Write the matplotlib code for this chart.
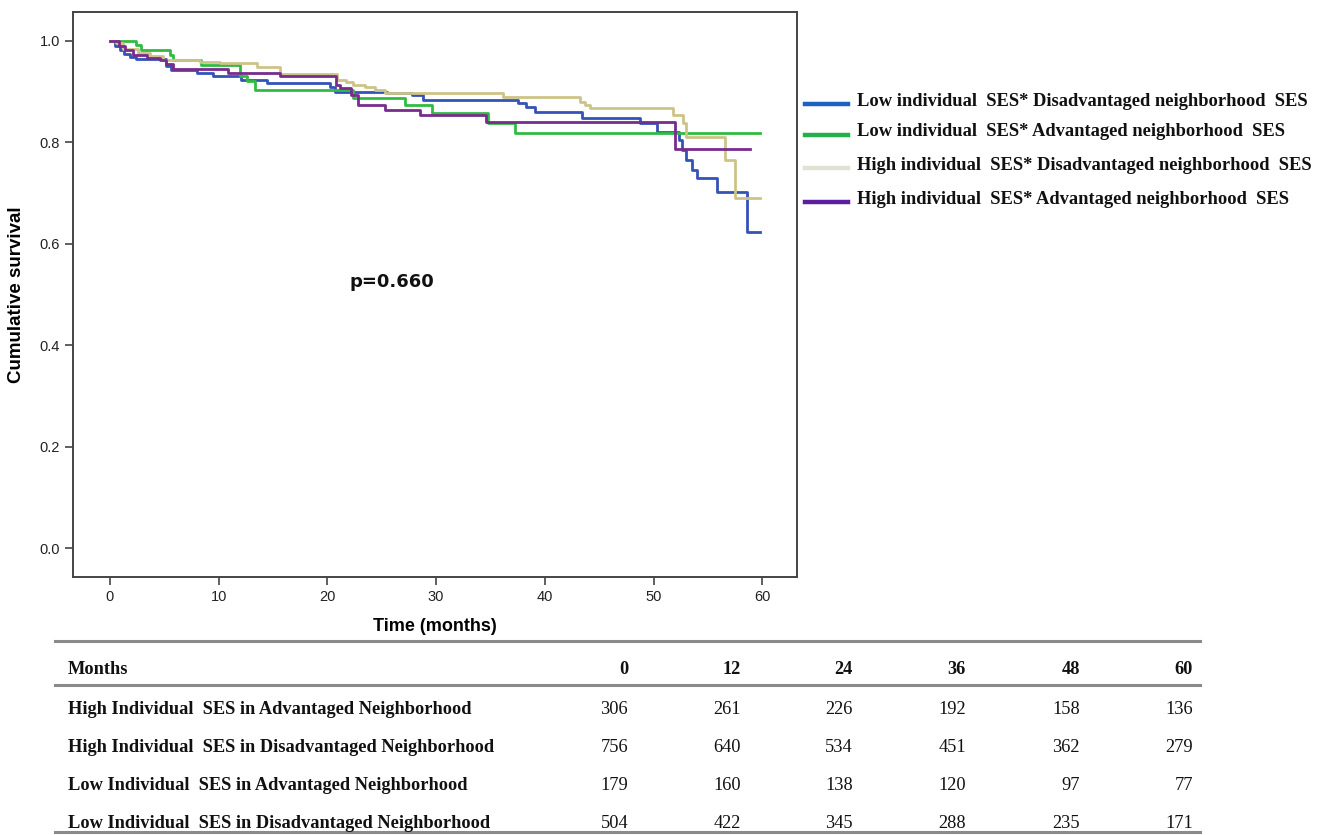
import matplotlib
matplotlib.use("Agg")
import matplotlib.pyplot as plt
from matplotlib.lines import Line2D

# Kaplan-Meier step curves (change points)
low_dis_t = [0, 0.5, 0.9, 1.3, 1.8, 2.4, 5.2, 5.6, 8.0, 9.5, 12.1, 14.4, 20.2, 20.7, 25.5, 27.8, 28.8,
             37.5, 38.3, 39.1, 43.4, 48.8, 50.3, 52.3, 52.6, 53.0, 53.5, 54.0, 55.8, 58.6, 59.8]
low_dis_s = [1.0, 0.99, 0.982, 0.975, 0.969, 0.964, 0.95, 0.943, 0.937, 0.931, 0.923, 0.917, 0.909, 0.90,
             0.897, 0.893, 0.884, 0.877, 0.870, 0.859, 0.848, 0.838, 0.821, 0.805, 0.785, 0.765, 0.745,
             0.729, 0.703, 0.624, 0.624]

low_adv_t = [0, 2.4, 2.9, 5.5, 5.8, 8.4, 12.0, 12.6, 13.3, 22.4, 27.1, 29.6, 34.8, 37.3, 59.8]
low_adv_s = [1.0, 0.992, 0.982, 0.972, 0.962, 0.953, 0.930, 0.920, 0.903, 0.888, 0.874, 0.857, 0.838,
             0.818, 0.818]

high_dis_t = [0, 0.6, 1.2, 2.6, 3.7, 4.9, 8.3, 10.1, 13.5, 15.6, 20.9, 21.7, 22.4, 23.5, 24.4, 25.3,
              36.2, 43.2, 43.7, 44.2, 51.8, 52.7, 53.0, 56.6, 57.5, 59.8]
high_dis_s = [1.0, 0.995, 0.985, 0.976, 0.97, 0.962, 0.959, 0.956, 0.949, 0.934, 0.922, 0.918, 0.913,
              0.909, 0.903, 0.897, 0.890, 0.880, 0.874, 0.867, 0.854, 0.838, 0.811, 0.765, 0.690, 0.690]

high_adv_t = [0, 0.8, 1.4, 2.1, 3.4, 4.6, 5.2, 5.8, 10.9, 15.6, 20.8, 21.2, 22.2, 22.8, 25.3, 28.5,
              34.6, 52.0, 58.9]
high_adv_s = [1.0, 0.99, 0.982, 0.972, 0.966, 0.962, 0.955, 0.944, 0.937, 0.930, 0.913, 0.907, 0.893,
              0.874, 0.864, 0.854, 0.840, 0.786, 0.786]

legend_labels = ["Low individual  SES* Disadvantaged neighborhood  SES",
                 "Low individual  SES* Advantaged neighborhood  SES",
                 "High individual  SES* Disadvantaged neighborhood  SES",
                 "High individual  SES* Advantaged neighborhood  SES"]

# numbers at risk table
table_months = [0, 12, 24, 36, 48, 60]
table_rows = ["High Individual  SES in Advantaged Neighborhood",
              "High Individual  SES in Disadvantaged Neighborhood",
              "Low Individual  SES in Advantaged Neighborhood",
              "Low Individual  SES in Disadvantaged Neighborhood"]
at_risk_high_adv = [306, 261, 226, 192, 158, 136]
at_risk_high_dis = [756, 640, 534, 451, 362, 279]
at_risk_low_adv = [179, 160, 138, 120, 97, 77]
at_risk_low_dis = [504, 422, 345, 288, 235, 171]

line_colors = ["#3353b8", "#30bb42", "#cdc388", "#782c8c"]
legend_colors = ["#1c62c2", "#22b04a", "#e0e1d2", "#5a1f99"]

W, H = 1325, 835
fig = plt.figure(figsize=(W / 100, H / 100), dpi=100)
ax = fig.add_axes([73 / W, 1 - 577 / H, (797 - 73) / W, (577 - 12) / H])

curves = [(low_dis_t, low_dis_s), (low_adv_t, low_adv_s), (high_dis_t, high_dis_s), (high_adv_t, high_adv_s)]
for (t, s), c in zip(curves, line_colors):
    ax.plot(t, s, drawstyle="steps-post", color=c, lw=2.0)

ax.set_xlim(-3.4, 63.2)
ax.set_ylim(-0.057, 1.057)
ax.set_xticks(range(0, 61, 10))
ax.set_yticks([0.0, 0.2, 0.4, 0.6, 0.8, 1.0])
ax.set_yticklabels(["0.0", "0.2", "0.4", "0.6", "0.8", "1.0"])
for sp in ax.spines.values():
    sp.set_color("#444444")
    sp.set_linewidth(1.4)
ax.tick_params(direction="out", length=6, width=1.2, color="#444444", labelsize=10.5,
               labelcolor="#222222")
for lab in ax.get_xticklabels() + ax.get_yticklabels():
    lab.set_fontfamily("Liberation Sans")
ax.set_xlabel("Time (months)", fontsize=13, fontweight="bold", family="Liberation Sans", labelpad=10)
ax.set_ylabel("Cumulative survival", fontsize=13.5, fontweight="bold", family="Liberation Sans", labelpad=10)
ax.text(25.9, 0.525, "p=0.660", fontsize=13, fontweight="bold", family="DejaVu Sans",
        ha="center", va="center", color="#111111")

# legend drawn by hand at the right of the plot
leg_y = [101, 132, 165, 199]
for lab, c, y in zip(legend_labels, legend_colors, leg_y):
    fig.add_artist(Line2D([805 / W, 848 / W], [1 - (y + 3) / H] * 2, color=c, lw=3.2))
    fig.text(857 / W, 1 - y / H, lab, fontsize=13.3, fontweight="bold", family="Liberation Serif",
             ha="left", va="center", color="#111111")

# at-risk table
rule_color = "#8a8a8a"
fig.add_artist(Line2D([55 / W, 1200 / W], [1 - 641 / H] * 2, color=rule_color, lw=2.2))
fig.add_artist(Line2D([55 / W, 1200 / W], [1 - 685 / H] * 2, color=rule_color, lw=2.2))
fig.add_artist(Line2D([55 / W, 1200 / W], [1 - 832 / H] * 2, color=rule_color, lw=2.2))
col_right = [628, 741, 853, 966, 1080, 1193]
fig.text(68 / W, 1 - 670 / H, "Months", fontsize=13.2, fontweight="bold", family="Liberation Serif",
         ha="left", va="center", color="#111111")
for m, x in zip(table_months, col_right):
    fig.text(x / W, 1 - 670 / H, str(m), fontsize=13.2, fontweight="bold", family="Liberation Serif",
             ha="right", va="center", color="#111111")
row_vals = [at_risk_high_adv, at_risk_high_dis, at_risk_low_adv, at_risk_low_dis]
row_y = [710, 747, 786, 823]
for lab, vals, y in zip(table_rows, row_vals, row_y):
    fig.text(68 / W, 1 - y / H, lab, fontsize=13.2, fontweight="bold", family="Liberation Serif",
             ha="left", va="center", color="#111111")
    for v, x in zip(vals, col_right):
        fig.text(x / W, 1 - y / H, str(v), fontsize=13.2, family="Liberation Serif",
                 ha="right", va="center", color="#111111")

fig.savefig("out.png", dpi=100)
